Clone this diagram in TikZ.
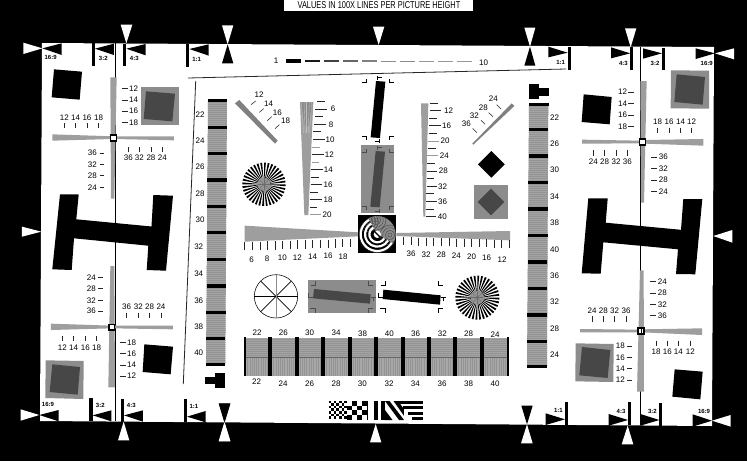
\documentclass[tikz,border=0pt]{standalone}
\usepackage{fontspec}
\usepackage{graphicx}
\setmainfont{Liberation Sans}
\newcounter{nn}
\tikzset{
  numlab/.style={inner sep=0pt,font=\fontsize{8}{8}\selectfont,text=black},
  arlab/.style={inner sep=0pt,font=\fontsize{6}{6}\selectfont\bfseries,text=black},
  tickln/.style={line width=0.55pt,draw=black!85},
  tickgr/.style={line width=0.8pt,draw=black!40},
  midgray/.style={fill=black!38},
  panelgray/.style={fill=black!45},
  darkgray/.style={fill=black!72},
  barfill/.style={fill=black!36},
  texline/.style={line width=0.25pt,draw=black!42},
  zoneA/.style={shift={(0,0)},x=0.33333pt,y=-0.33333pt},
  zoneB/.style={shift={(0,230)},x=0.33333pt,y=-0.33333pt},
  zoneC/.style={shift={(200,0)},x=0.33333pt,y=-0.33333pt},
  zoneD/.style={shift={(200,210)},x=0.33333pt,y=-0.33333pt},
  zoneE/.style={shift={(500,0)},x=0.33333pt,y=-0.33333pt},
  zoneF/.style={shift={(500,230)},x=0.33333pt,y=-0.33333pt},
}
\newcommand{\lbl}[3]{\stepcounter{nn}\node[numlab] (n\thenn) at (#1,#2) {#3};}
\newcommand{\arl}[3]{\stepcounter{nn}\node[arlab] (n\thenn) at (#1,#2) {#3};}
\newcommand{\spokes}[3]{%
  \foreach \a in {0,10,...,350}{\fill[black] (#1,#2) -- +(\a:#3) -- +(\a+5:#3) -- cycle;}
  \fill[black!42] (#1,#2) circle (#3*0.3);
  \foreach \a in {0,45,...,135}{\draw[line width=0.35pt,black!58] (#1,#2) +(\a:#3*0.28) -- +(\a+180:#3*0.28);}
}
\newcommand{\vcrop}[1]{%
  \draw[line width=0.7pt,#1] (485,248) -- (500,248) -- (500,238);
  \draw[line width=0.7pt,#1] (567,238) -- (567,248) -- (582,248);
  \draw[line width=0.7pt,#1] (485,408) -- (500,408) -- (500,420);
  \draw[line width=0.7pt,#1] (582,408) -- (567,408) -- (567,420);
  \draw[line width=0.7pt,#1] (532,228) -- (532,240) (532,233) -- (546,233);
  \draw[line width=0.7pt,#1] (537,418) -- (537,430) (524,424) -- (537,424);
}
\newcommand{\hcrop}[1]{%
  \draw[line width=0.7pt,#1] (542,225) -- (555,225) -- (555,214);
  \draw[line width=0.7pt,#1] (716,214) -- (716,225) -- (730,225);
  \draw[line width=0.7pt,#1] (541,296) -- (555,296) -- (555,308);
  \draw[line width=0.7pt,#1] (730,296) -- (716,296) -- (716,308);
  \draw[line width=0.7pt,#1] (534,248) -- (534,262) (534,262) -- (548,262);
  \draw[line width=0.7pt,#1] (723,261) -- (737,261) (730,261) -- (730,273);
}
\begin{document}
\begin{tikzpicture}[x=1pt,y=-1pt]
\useasboundingbox (0,0) rectangle (747,461);
\fill[black] (0,0) rectangle (747,461);
\fill[white] (42,43) -- (714,47) -- (712,426) -- (40,421) -- cycle;
\fill[white] (284,0) rectangle (473.3,11);
\node[inner sep=0pt,font=\fontsize{10}{10}\selectfont,text=black] (title) at (379,5.3) {\scalebox{0.74}[1]{VALUES IN 100X LINES PER PICTURE HEIGHT}};
% center lines
\draw[line width=1pt,black] (115.3,43) -- (115.3,421);
\draw[line width=1pt,black] (640.3,47) -- (640.3,425);
\draw[line width=0.8pt,black!85] (188,78) -- (566,69);
\draw[line width=0.8pt,black!85] (195.7,81) -- (183.3,384);
% ---------- top-left zone
\begin{scope}[zoneA]
\fill[white] (70,128) -- (70,162) -- (127,145) -- cycle;
\fill[black] (127,145) -- (185,130) -- (185,165) -- cycle;
\arl{152}{173}{16:9}
\fill[black] (275,130) rectangle (285,198);
\fill[black] (285,146) -- (342,131) -- (342,165) -- cycle;
\arl{310}{176}{3:2}
\fill[black] (370,132) rectangle (379,199);
\fill[black] (379,146) -- (437,132) -- (437,166) -- cycle;
\arl{403}{176}{4:3}
\fill[white] (362,74) -- (397,74) -- (379,130) -- cycle;
\fill[black] (559,132) rectangle (568,200);
\fill[black] (568,147) -- (626,133) -- (626,167) -- cycle;
\arl{590}{177}{1:1}
\fill[white] (666,76) -- (700,76) -- (683,133) -- cycle;
\fill[black] (683,133) -- (666,190) -- (700,190) -- cycle;
\fill[white] (66,680) -- (66,710) -- (124,695) -- cycle;
\fill[black] (162,208) -- (246,215) -- (239,299) -- (155,292) -- cycle;
\fill[panelgray] (423,262) rectangle (536,376);
\fill[darkgray] (438,274) -- (525,281) -- (517,364) -- (431,357) -- cycle;
\fill[midgray] (331,232) -- (350,232) -- (343,596) -- (333,596) -- cycle;
\fill[midgray] (157,403) -- (339,409) -- (339,417) -- (157,422) -- cycle;
\fill[midgray] (345,409) -- (522,409) -- (522,421) -- (345,417) -- cycle;
\draw[line width=1.1pt,black,fill=white] (331,405) rectangle (349,423);
\foreach \v/\t in {265/12,300/14,333/16,367/18}{\draw[tickln] (367,\v) -- (385,\v); \lbl{401}{\v}{\t}}
\foreach \u/\t in {193/12,227/14,261/16,296/18}{\draw[tickln] (\u,370) -- (\u,385); \lbl{\u}{352}{\t}}
\foreach \v/\t in {459/36,493/32,526/28,562/24}{\draw[tickln] (299,\v) -- (313,\v); \lbl{277}{\v}{\t}}
\foreach \u/\t in {385/36,418/32,453/28,487/24}{\draw[tickln] (\u,441) -- (\u,457); \lbl{\u}{474}{\t}}
\end{scope}
% ---------- bottom-left zone
\begin{scope}[zoneB]
\fill[white] (62,538) -- (62,572) -- (118,555) -- cycle;
\fill[black] (118,555) -- (176,540) -- (176,574) -- cycle;
\arl{144}{524}{16:9}
\fill[black] (268,505) rectangle (278,574);
\fill[black] (278,556) -- (334,541) -- (334,574) -- cycle;
\arl{301}{525}{3:2}
\fill[black] (362,506) rectangle (372,575);
\fill[black] (372,556) -- (429,541) -- (429,575) -- cycle;
\arl{394}{527}{4:3}
\fill[white] (371,575) -- (354,631) -- (388,631) -- cycle;
\fill[black] (551,507) rectangle (561,577);
\fill[black] (561,560) -- (617,543) -- (617,577) -- cycle;
\arl{582}{528}{1:1}
\fill[black] (657,521) -- (691,521) -- (674,577) -- cycle;
\fill[white] (674,577) -- (657,633) -- (691,633) -- cycle;
\fill[black] (433,343) -- (519,350) -- (512,433) -- (428,426) -- cycle;
\fill[panelgray] (137,391) -- (251,393) -- (250,507) -- (136,504) -- cycle;
\fill[darkgray] (157,403) -- (240,411) -- (233,494) -- (149,486) -- cycle;
\fill[midgray] (331,108) -- (343,108) -- (345,472) -- (325,472) -- cycle;
\fill[midgray] (153,281) -- (335,287) -- (335,295) -- (153,300) -- cycle;
\fill[midgray] (340,287) -- (519,287) -- (519,298) -- (340,295) -- cycle;
\draw[line width=1.1pt,black,fill=white] (327,283) rectangle (344,300);
\foreach \v/\t in {142/24,175/28,211/32,243/36}{\draw[tickln] (295,\v) -- (310,\v); \lbl{274}{\v}{\t}}
\foreach \u/\t in {380/36,415/32,449/28,483/24}{\draw[tickln] (\u,248) -- (\u,265); \lbl{\u}{230}{\t}}
\foreach \u/\t in {187/12,221/14,256/16,290/18}{\draw[tickln] (\u,318) -- (\u,334); \lbl{\u}{352}{\t}}
\foreach \v/\t in {337/18,370/16,405/14,438/12}{\draw[tickln] (360,\v) -- (378,\v); \lbl{395}{\v}{\t}}
\end{scope}
% left H
\fill[black] (60,194.3) -- (78.7,194.5) -- (76.3,219.3) -- (151.5,226.5) -- (153.3,195) -- (173,195.7) -- (166,270.7) -- (146.7,270) -- (148.3,245.7) -- (74,238.3) -- (71.7,270) -- (52.3,269.3) -- cycle;
% right H
\fill[black] (588.3,198.3) -- (607.7,198.3) -- (605.7,222.7) -- (681,229.8) -- (683.3,199) -- (702.3,199) -- (695.3,274.3) -- (676,274) -- (678,249.3) -- (603.3,242.3) -- (600.7,273.7) -- (581.7,273.3) -- cycle;
% ---------- top-right zone
\begin{scope}[zoneE]
\fill[black] (145,140) -- (145,172) -- (203,158) -- cycle;
\fill[black] (203,140) rectangle (212,209);
\arl{182}{186}{1:1}
\fill[white] (73,83) -- (106,83) -- (90,140) -- cycle;
\fill[black] (90,140) -- (73,197) -- (106,197) -- cycle;
\fill[black] (333,142) -- (333,175) -- (391,160) -- cycle;
\fill[black] (391,142) rectangle (400,211);
\arl{370}{190}{4:3}
\fill[white] (375,85) -- (409,85) -- (392,142) -- cycle;
\fill[black] (429,145) -- (429,176) -- (486,160) -- cycle;
\fill[black] (486,143) rectangle (495,211);
\arl{465}{189}{3:2}
\fill[black] (587,145) -- (587,177) -- (645,160) -- cycle;
\fill[white] (702,145) -- (702,178) -- (645,160) -- cycle;
\arl{620}{189}{16:9}
\fill[black] (251,283) -- (335,291) -- (329,373) -- (245,366) -- cycle;
\fill[panelgray] (513,211) -- (627,212) -- (627,326) -- (512,325) -- cycle;
\fill[darkgray] (530,223) -- (615,231) -- (608,314) -- (523,306) -- cycle;
\fill[midgray] (421,243) -- (440,243) -- (432,608) -- (423,608) -- cycle;
\fill[midgray] (246,419) -- (420,422) -- (420,430) -- (246,431) -- cycle;
\fill[midgray] (436,420) -- (610,417) -- (610,437) -- (436,431) -- cycle;
\draw[line width=1.1pt,black,fill=white] (419,417) rectangle (437,435);
\foreach \v/\t in {276/12,310/14,345/16,379/18}{\draw[tickln] (385,\v) -- (402,\v); \lbl{368}{\v}{\t}}
\foreach \u/\t in {473/18,507/16,542/14,575/12}{\draw[tickln] (\u,383) -- (\u,398); \lbl{\u}{366}{\t}}
\foreach \u/\t in {280/24,314/28,348/32,382/36}{\draw[tickln] (\u,450) -- (\u,467); \lbl{\u}{484}{\t}}
\foreach \v/\t in {471/36,505/32,540/28,574/24}{\draw[tickln] (453,\v) -- (470,\v); \lbl{490}{\v}{\t}}
\end{scope}
% ---------- bottom-right zone
\begin{scope}[zoneF]
\fill[white] (640,18) -- (697,0) -- (697,38) -- cycle;
\fill[black] (137,550) -- (137,585) -- (195,568) -- cycle;
\fill[black] (195,517) rectangle (204,585);
\arl{175}{542}{1:1}
\fill[black] (326,552) -- (326,587) -- (384,570) -- cycle;
\fill[black] (384,517) rectangle (393,586);
\arl{363}{544}{4:3}
\fill[white] (383,587) -- (365,643) -- (400,643) -- cycle;
\fill[black] (421,552) -- (421,587) -- (478,570) -- cycle;
\fill[black] (478,518) rectangle (487,587);
\arl{457}{544}{3:2}
\fill[black] (578,553) -- (578,590) -- (636,572) -- cycle;
\fill[white] (692,555) -- (692,590) -- (636,572) -- cycle;
\arl{612}{544}{16:9}
\fill[black] (64,527) -- (98,527) -- (81,583) -- cycle;
\fill[white] (81,583) -- (63,640) -- (98,640) -- cycle;
\fill[black] (524,418) -- (608,425) -- (601,508) -- (517,500) -- cycle;
\fill[panelgray] (227,340) -- (341,342) -- (340,456) -- (226,454) -- cycle;
\fill[darkgray] (246,351) -- (331,360) -- (323,444) -- (238,436) -- cycle;
\fill[midgray] (420,121) -- (431,121) -- (432,485) -- (411,485) -- cycle;
\fill[midgray] (240,297) -- (420,299) -- (420,307) -- (240,307) -- cycle;
\fill[midgray] (426,298) -- (606,295) -- (606,315) -- (426,307) -- cycle;
\draw[line width=1.1pt,black,fill=white] (414,294) rectangle (432,312);
\draw[line width=1pt,black] (423,294) -- (423,312);
\foreach \u/\t in {276/24,310/28,344/32,378/36}{\draw[tickln] (\u,258) -- (\u,275); \lbl{\u}{241}{\t}}
\foreach \v/\t in {154/24,189/28,223/32,257/36}{\draw[tickln] (450,\v) -- (467,\v); \lbl{487}{\v}{\t}}
\foreach \v/\t in {348/18,382/16,415/14,450/12}{\draw[tickln] (381,\v) -- (396,\v); \lbl{361}{\v}{\t}}
\foreach \u/\t in {468/18,502/16,535/14,571/12}{\draw[tickln] (\u,332) -- (\u,348); \lbl{\u}{364}{\t}}
\end{scope}
% ---------- bar columns
\begin{scope}
\clip (208,100.7) -- (227,100.7) -- (225.3,364.3) -- (206,364.3) -- cycle;
\fill[barfill] (200,95) rectangle (235,370);
\foreach \y in {100,102,...,366}{\draw[texline] (200,\y) -- (235,\y);}
\end{scope}
\foreach \y [evaluate=\y as \xa using {208-(\y-100)*0.0076}] in {100.7,127.3,153.7,180,206.7,232.7,259.3,286,312.3,338.7,364.3}{
  \fill[black] (\xa,\y-1.6) rectangle (\xa+19.3,\y+1.6);
}
\begin{scope}
\clip (529,104.3) -- (548.3,104.3) -- (547,366.7) -- (527,366.7) -- cycle;
\fill[barfill] (520,100) rectangle (555,370);
\foreach \y in {104,106,...,368}{\draw[texline] (520,\y) -- (555,\y);}
\end{scope}
\foreach \y [evaluate=\y as \xa using {529-(\y-104)*0.0076}] in {104.3,129.7,156,182.7,209,235.7,262,288.3,315,341.3,366.7}{
  \fill[black] (\xa,\y-1.6) rectangle (\xa+19.5,\y+1.6);
}
\foreach \y/\t in {115/22,141/24,167/26,194/28,220/30}{\lbl{200}{\y}{\t}}
\foreach \y/\t in {247/32,273.3/34,300.3/36,326.3/38,353/40}{\lbl{198.7}{\y}{\t}}
\foreach \y/\t in {117.3/22,144/26,170/30,197/34,223/38,250/40,276/36,302/32,329/28,355/24}{\lbl{554.5}{\y}{\t}}
\fill[black] (205.3,377) rectangle (215.3,384.3);
\fill[black] (215.3,373) rectangle (225,388.3);
\fill[black] (529.3,84.3) rectangle (538.7,99.3);
\fill[black] (538.7,88.3) rectangle (548.7,96);
% ---------- upper centre
\begin{scope}[zoneC]
\fill[white] (519,80) -- (553,80) -- (536,135) -- cycle;
\lbl{228}{183}{1}
\lbl{851}{188}{10}
\foreach \i/\w/\c in {0/12/100,1/7/90,2/5.5/75,3/4.5/60,4/4/50,5/3.5/45,6/3/45,7/2.5/40,8/2/40,9/1.5/40}{
  \fill[black!\c] ({257+57*\i},{184-0.15*\i-\w/2}) rectangle ({302+57*\i},{184-0.15*\i+\w/2});
}
% left diagonal
\fill[black!50] (105,310) -- (118,300) -- (233,422) -- (225,431) -- cycle;
\foreach \a/\b/\c/\d in {153/314/167/303,178/337/191/326,202/362/215/350,225/386/238/374}{\draw[tickln] (\a,\b) -- (\c,\d);}
\foreach \u/\v/\t in {177/285/12,206/312/14,232/337/16,257/361/18}{\lbl{\u}{\v}{\t}}
% vertical wedge A
\fill[midgray] (300,306) -- (340,306) -- (325,645) -- (313,645) -- cycle;
\fill[black!46] (302,306) -- (338,306) -- (326,380) -- (314,380) -- cycle;
\foreach \a in {304,312,320,328,335}{\draw[line width=0.4pt,black!25] (\a,306) -- ({320+(\a-320)*0.55},400);}
\foreach \a/\b/\v in {352/376/304,345/369/350,340/362/395,332/356/531,330/353/576,330/352/621}{\draw[tickln] (\a,\v) -- (\b,\v);}
\foreach \a/\b/\v in {337/360/441,335/358/486}{\draw[tickgr] (\a,\v) -- (\b,\v);}
\foreach \a/\b/\v/\x/\t in {346/380/327/399/6,342/378/373/393/8,338/374/418/390/10,335/372/463/388/12,333/369/508/385/14,332/367/553/384/16,330/365/598/384/18}{\draw[tickln] (\a,\v) -- (\b,\v); \lbl{\x}{\v}{\t}}
\draw[tickgr] (330,644) -- (362,644); \lbl{381}{644}{20}
% vertical wedge B
\fill[midgray] (663,310) -- (685,310) -- (676,650) -- (670,650) -- cycle;
\foreach \a/\b/\v in {690/714/310,688/712/355,687/710/400,684/707/445,682/705/490,680/703/536,679/702/581,679/702/627}{\draw[tickln] (\a,\v) -- (\b,\v);}
\foreach \a/\b/\v/\x/\t in {690/724/331/746/12,688/722/377/740/16,680/712/513/730/28,680/712/559/728/32,679/710/604/728/36,679/709/650/727/40}{\draw[tickln] (\a,\v) -- (\b,\v); \lbl{\x}{\v}{\t}}
\draw[tickgr] (684,423) -- (717,423); \lbl{735}{422}{20}
\draw[tickgr] (682,467) -- (713,467); \lbl{733}{468}{24}
% right diagonal
\fill[black!50] (935,310) -- (943,318) -- (820,434) -- (817,431) -- cycle;
\foreach \a/\b/\c/\d in {890/314/903/327,866/338/879/350,843/361/855/373,818/385/831/398}{\draw[tickln] (\a,\b) -- (\c,\d);}
\foreach \u/\v/\t in {880/295/24,850/322/28,823/346/32,799/372/36}{\lbl{\u}{\v}{\t}}
% diamonds
\fill[black] (874,453) -- (914,493) -- (874,533) -- (834,493) -- cycle;
\fill[panelgray] (822,556) rectangle (924,657);
\fill[darkgray] (873,566) -- (913,606) -- (873,646) -- (833,606) -- cycle;
% star
\spokes{192}{553}{65}
% tilted bar with marks
\fill[black] (528,243) -- (556,245) -- (540,414) -- (512,412) -- cycle;
\vcrop{black}
\fill[panelgray] (484,435) rectangle (583,640);
\fill[darkgray] (527,453) -- (555,455) -- (539,622) -- (511,620) -- cycle;
\end{scope}
\begin{scope}[shift={(200,70)},x=0.33333pt,y=-0.33333pt]
\vcrop{black!70}
\end{scope}
% ---------- lower centre
\begin{scope}[zoneD]
\fill[midgray] (134,47) -- (475,67) -- (475,79) -- (134,95) -- cycle;
\fill[midgray] (589,69) -- (930,63) -- (930,91) -- (589,78) -- cycle;
\foreach \u [count=\k, evaluate=\k as \tp using {97-0.7*\k}] in {133,157,180,203,225,248,270,293,316,338,361,384,406,428,451}{
  \draw[tickln] (\u,\tp) -- (\u,\tp+25);
}
\foreach \u [count=\k, evaluate=\k as \tp using {81+0.6*\k}] in {610,633,656,680,701,725,748,770,793,815,838,860,883,905,928}{
  \draw[tickln] (\u,\tp) -- (\u,\tp+24);
}
\foreach \u/\v/\t in {155/150/6,201/145/8,247/142/10,292/142/12,338/139/14,384/138/16,429/139/18,633/131/36,678/133/32,724/134/28,769/136/24,815/139/20,860/142/16,906/148/12}{\lbl{\u}{\v}{\t}}
% zone plate
\fill[black] (475,16) rectangle (589,130);
\begin{scope}
\clip (532,73) circle (55);
\fill[black!45] (475,16) rectangle (589,130);
\fill[black] (532,73) -- (612,119) -- (532,140) -- (460,120) -- (460,30) -- (492,4) -- cycle;
\foreach \c/\d in {528/30,570/75,505/35}{
  \foreach \r in {6,14,...,30}{\draw[line width=0.5pt,black!70] (\c,\d) circle (\r);}
}
\foreach \r in {50,37,24}{
  \draw[line width=2.2pt,white] (532,73) ++(30:\r) arc (30:240:\r);
}
\fill[white] (532,73) circle (11);
\draw[line width=1.3pt,black] (523,64) -- (541,82);
\end{scope}
% wheel
\draw[line width=0.55pt,black] (228,259) circle (65);
\foreach \a in {0,45,135}{\draw[line width=0.6pt,black] (228,259) +(\a:65) -- +(\a+180:65);}
\draw[line width=0.9pt,black!45] (228,194) -- (228,324);
% horizontal panel and bar
\fill[panelgray] (323,209) rectangle (527,308);
\fill[darkgray] (342,237) -- (512,253) -- (510,281) -- (339,265) -- cycle;
\fill[black] (550,239) -- (722,256) -- (720,284) -- (548,267) -- cycle;
\hcrop{black}
\begin{scope}[xshift=-70pt]
\hcrop{black!70}
\end{scope}
\spokes{832}{263}{66}
% frequency blocks
\foreach \a/\b in {139/205,217/284,296/364,376/443,455/522,534/602,614/681,693/760,772/840,852/920}{
  \fill[barfill] (\a,383) rectangle (\b,442);
  \foreach \v in {386,392,...,440}{\draw[texline] (\a,\v) -- (\b,\v);}
  \fill[black!34] (\a,442) rectangle (\b,498);
  \foreach \k in {0,...,9}{\draw[texline] ({\a+(\b-\a)*(\k+0.5)/10},444) -- ({\a+(\b-\a)*(\k+0.5)/10},497);}
  \draw[line width=0.4pt,black!60] (\a,442) -- (\b,442);
}
\foreach \a/\b in {131/139,205/217,284/296,364/376,443/455,522/534,602/614,681/693,760/772,840/852,920/926}{\fill[black] (\a,381) rectangle (\b,498);}
\foreach \u/\v/\t in {171/367/22,250/367/26,329/367/30,408/367/34,488/370/38,568/370/40,647/370/36,727/370/32,806/370/28,885/373/24,170/516/22,249/520/24,329/520/26,408/520/28,487/520/30,567/520/32,646/522/34,726/522/36,806/522/38,885/522/40}{\lbl{\u}{\v}{\t}}
\fill[black] (56,580) -- (91,580) -- (73,637) -- cycle;
\fill[white] (73,637) -- (56,694) -- (91,694) -- cycle;
\fill[white] (527,642) -- (510,697) -- (544,697) -- cycle;
\end{scope}
% resolution pattern
\foreach \i in {0,...,6}{\foreach \j in {0,...,6}{
  \ifodd\numexpr\i+\j\relax\else\fill[black] ({328.7+2.57*\i},{400.7+2.57*\j}) rectangle ++(2.57,2.57);\fi
}}
\foreach \i in {0,...,3}{\foreach \j in {0,...,3}{
  \ifodd\numexpr\i+\j\relax\fill[black] ({346.7+5*\i},{400.7+4.8*\j}) rectangle ++(5,4.8);\fi
}}
\fill[black] (366.7,400.7) rectangle (368,419.9);
\fill[black] (374,400.7) rectangle (377.5,420);
\fill[black] (381.3,400.7) rectangle (385,420);
\fill[black] (385,401) -- (389.5,401) -- (404,420) -- (399,420) -- cycle;
\fill[black] (393.5,401) -- (398,401) -- (412,420) -- (407,420) -- cycle;
\fill[black] (385,410) -- (385,420) -- (392.5,420) -- cycle;
\fill[white] (404,400.5) rectangle (424,420.5);
\fill[black] (398,401) rectangle (423.3,404);
\fill[black] (403,406.3) rectangle (423.3,409);
\fill[black] (408,411.7) rectangle (423.3,414.5);
\fill[black] (412,417.3) rectangle (423.3,420);
\end{tikzpicture}
\end{document}
